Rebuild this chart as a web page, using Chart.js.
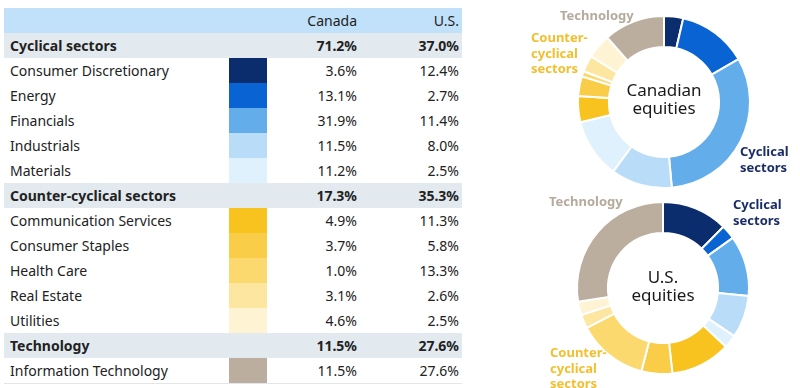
<!DOCTYPE html>
<html><head><meta charset="utf-8">
<script src="https://cdn.jsdelivr.net/npm/chart.js@4/dist/chart.umd.min.js"></script>
<style>
body{margin:0;width:800px;height:388px;background:#fff;font-family:"Noto Sans",sans-serif;color:#222;position:relative;overflow:hidden}
#tbl{position:absolute;left:4px;top:8px;width:458px}
.row{display:grid;grid-template-columns:225px 38px 90px 102px 3px;height:25px;line-height:25px;font-size:14px}
.row div{white-space:nowrap}
.lab{padding-left:6px}
.num{text-align:right}
.hdr{background:#c0e1f9}
.grp{background:#e2eaef;font-weight:bold}
.last{border-bottom:1px solid #e0e6ea}
.cv{position:absolute}
.tx{position:absolute;font-weight:bold;font-size:13px;line-height:15.5px}
.ctr{position:absolute;font-size:17px;line-height:18px;text-align:center;width:120px;color:#1a1a1a}
</style></head><body>
<div id="tbl"></div>
<canvas id="ca" class="cv" width="180" height="180" style="left:574px;top:12px;width:180px;height:180px"></canvas>
<canvas id="us" class="cv" width="180" height="180" style="left:573px;top:198px;width:180px;height:180px"></canvas>
<div class="ctr" style="left:604px;top:81px">Canadian<br>equities</div>
<div class="ctr" style="left:603px;top:268px">U.S.<br>equities</div>
<div class="tx" style="left:560px;top:8px;color:#b5aa9c">Technology</div>
<div class="tx" style="left:531px;top:30px;color:#f3bf2e">Counter-<br>cyclical<br>sectors</div>
<div class="tx" style="left:740px;top:144px;color:#1b2d69">Cyclical<br>sectors</div>
<div class="tx" style="left:549px;top:194px;color:#b5aa9c">Technology</div>
<div class="tx" style="left:733px;top:197px;color:#1b2d69">Cyclical<br>sectors</div>
<div class="tx" style="left:550px;top:345px;color:#f3bf2e">Counter-<br>cyclical<br>sectors</div>
<script>
const sectors = ["Consumer Discretionary","Energy","Financials","Industrials","Materials","Communication Services","Consumer Staples","Health Care","Real Estate","Utilities","Information Technology"];
const canada = [3.6,13.1,31.9,11.5,11.2,4.9,3.7,1.0,3.1,4.6,11.5];
const us = [12.4,2.7,11.4,8.0,2.5,11.3,5.8,13.3,2.6,2.5,27.6];
const groups = ["Cyclical sectors","Counter-cyclical sectors","Technology"];
const groupCanada = [71.2,17.3,11.5];
const groupUS = [37.0,35.3,27.6];
const groupSize = [5,5,1];
const colors = ["#0b2d6e","#0a63d2","#62adea","#b9ddf8","#dff1fd","#f8c21f","#f9cd48","#fbd96f","#fde6a0","#fef3d2","#bcae9e"];
const headers = ["Canada","U.S."];

const fmt = v => v.toFixed(1)+"%";
let html = `<div class="row hdr"><div></div><div></div><div class="num">${headers[0]}</div><div class="num">${headers[1]}</div><div></div></div>`;
let k = 0;
groups.forEach((g,gi)=>{
  html += `<div class="row grp"><div class="lab">${g}</div><div></div><div class="num">${fmt(groupCanada[gi])}</div><div class="num">${fmt(groupUS[gi])}</div><div></div></div>`;
  for(let j=0;j<groupSize[gi];j++,k++){
    const last = k===sectors.length-1 ? " last":"";
    html += `<div class="row${last}"><div class="lab">${sectors[k]}</div><div style="background:${colors[k]}"></div><div class="num">${fmt(canada[k])}</div><div class="num">${fmt(us[k])}</div><div></div></div>`;
  }
});
document.getElementById('tbl').innerHTML = html;

function donut(id, data){
  new Chart(document.getElementById(id), {
    type:'doughnut',
    data:{labels:sectors, datasets:[{data:data, backgroundColor:colors, borderColor:'#ffffff', borderWidth:2, hoverOffset:0}]},
    options:{responsive:false, animation:false, radius:86, cutout:57,
      plugins:{legend:{display:false}, tooltip:{enabled:false}}}
  });
}
donut('ca', canada);
donut('us', us);
</script>
</body></html>
